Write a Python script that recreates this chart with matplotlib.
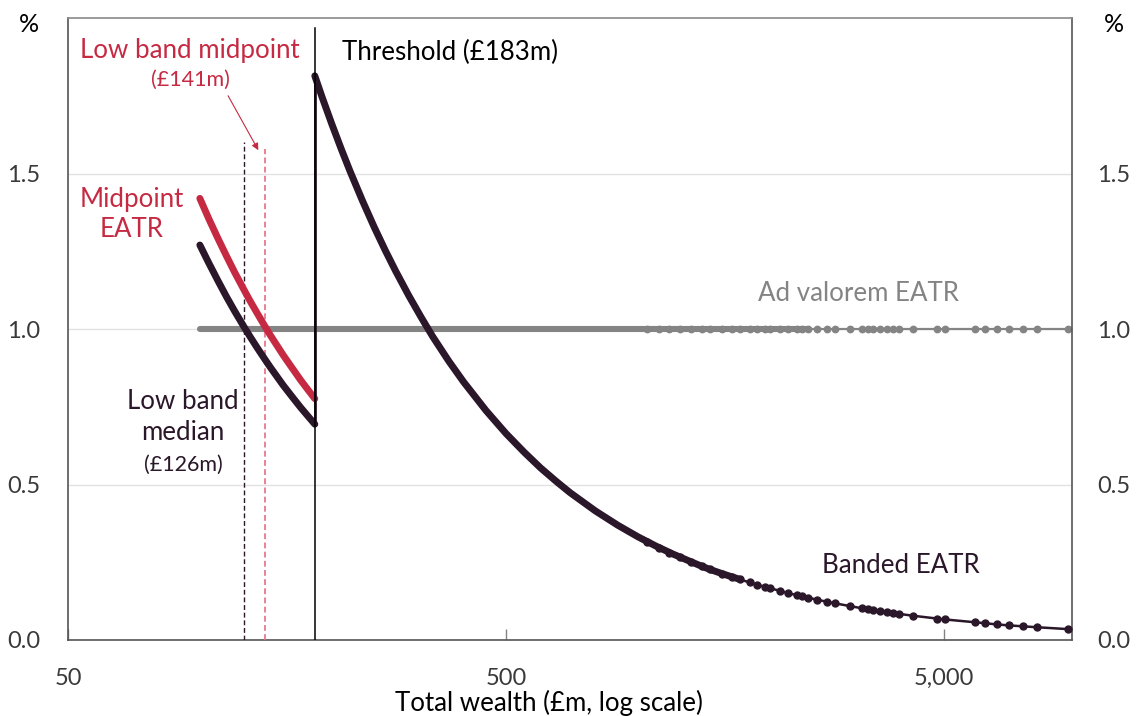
import matplotlib
matplotlib.use("Agg")
import matplotlib.pyplot as plt
from matplotlib.ticker import FixedLocator, NullLocator, FixedFormatter

plt.rcParams['font.family'] = ['Lato', 'DejaVu Sans']

# ---------------- data ----------------
threshold = 183
low_median = 126
low_midpoint = 141
ad_valorem_rate = 1.0

# low band (100m to threshold)
low_wealth = [100, 105, 110, 115, 120, 126, 130, 135, 141, 145, 150, 155,
              160, 165, 170, 176, 183]
low_banded = [1.27, 1.21, 1.155, 1.104, 1.058, 1.008, 0.977, 0.941, 0.901,
              0.876, 0.847, 0.819, 0.794, 0.770, 0.747, 0.722, 0.694]
low_midpoint_eatr = [1.42, 1.352, 1.291, 1.235, 1.183, 1.127, 1.092, 1.052,
                     1.007, 0.979, 0.947, 0.916, 0.888, 0.861, 0.835, 0.807,
                     0.776]

# dense part above threshold
high_wealth = [183, 190, 200, 210, 220, 235, 250, 265, 280, 300, 320, 340,
               370, 400, 450, 500, 550, 600, 650, 700, 800, 900, 1000, 1100,
               1200, 1320]
high_banded = [1.814, 1.747, 1.660, 1.581, 1.509, 1.413, 1.328, 1.253, 1.186,
               1.107, 1.038, 0.976, 0.897, 0.830, 0.738, 0.664, 0.604, 0.553,
               0.511, 0.474, 0.415, 0.369, 0.332, 0.302, 0.277, 0.252]

# sparse individual observations (right tail)
indiv_wealth = [1050, 1120, 1180, 1250, 1320, 1400, 1460, 1560, 1640, 1710,
                1800, 1870, 1950, 2000, 2110, 2200, 2310, 2370, 2450, 2560,
                2700, 2820, 3050, 3250, 3350, 3440, 3570, 3710, 3830, 3950,
                4250, 4820, 5030, 5890, 6200, 6610, 7040, 7570, 8160, 9590]
indiv_banded = [0.316, 0.296, 0.281, 0.266, 0.252, 0.237, 0.227, 0.213,
                0.203, 0.195, 0.185, 0.178, 0.171, 0.167, 0.158, 0.151,
                0.144, 0.140, 0.136, 0.130, 0.123, 0.118, 0.109, 0.102,
                0.099, 0.097, 0.093, 0.090, 0.087, 0.084, 0.078, 0.069,
                0.066, 0.057, 0.054, 0.050, 0.047, 0.044, 0.041, 0.035]

x_ticks = [50, 500, 5000]
x_tick_labels = ['50', '500', '5,000']
y_ticks = [0.0, 0.5, 1.0, 1.5]
y_tick_labels = ['0.0', '0.5', '1.0', '1.5']

# ---------------- style ----------------
DARK = '#2a1729'
RED = '#c62a42'
PINK = '#e4707f'
GREY = '#848484'
TICKC = '#3a3a3a'
FS = 18.6

fig = plt.figure(figsize=(11.38, 7.16), dpi=100)
ax = fig.add_axes([68/1138, 76/716, (1072-68)/1138, (640-18)/716])
ax.set_xscale('log')
ax.set_xlim(50, 9800)
ax.set_ylim(0, 2.0)

ax.xaxis.set_major_locator(FixedLocator(x_ticks))
ax.xaxis.set_major_formatter(FixedFormatter(x_tick_labels))
ax.xaxis.set_minor_locator(NullLocator())
ax.yaxis.set_major_locator(FixedLocator(y_ticks))
ax.yaxis.set_major_formatter(FixedFormatter(y_tick_labels))

ax.tick_params(axis='x', direction='in', length=8, width=1, color=GREY,
               labelsize=17, labelcolor=TICKC, pad=20)
ax.tick_params(axis='y', which='both', left=False, right=False, length=0,
               labelsize=17, labelcolor=TICKC, labelleft=True,
               labelright=True)
ax.yaxis.set_tick_params(pad=44)
for lab in ax.yaxis.get_ticklabels():
    lab.set_horizontalalignment('left')
ax.tick_params(axis='y', which='major', pad=44)
# right-hand labels: closer to the spine
for t in ax.yaxis.get_major_ticks():
    t.set_pad(44)

ax.yaxis.grid(True, color='#e2e2e2', lw=1)
ax.set_axisbelow(True)
for s in ['left', 'bottom', 'right']:
    ax.spines[s].set_color('#555555')
    ax.spines[s].set_linewidth(1.2)
ax.spines['top'].set_color('#8a8a8a')
ax.spines['top'].set_linewidth(1.2)

# ---------------- ad valorem EATR ----------------
av_dense_w = low_wealth + high_wealth[1:] + indiv_wealth[5:19]
ax.plot(av_dense_w, [ad_valorem_rate] * len(av_dense_w), color=GREY, lw=4.4,
        solid_capstyle='round', zorder=2)
ax.plot(indiv_wealth[18:], [ad_valorem_rate] * len(indiv_wealth[18:]),
        color=GREY, lw=1.6, zorder=2)
ax.plot(indiv_wealth, [ad_valorem_rate] * len(indiv_wealth), ls='none',
        marker='o', ms=4.6, color=GREY, zorder=2)

# ---------------- reference lines ----------------
ax.plot([low_median, low_median], [0, 1.6], color=DARK, lw=1.0,
        dashes=(3.5, 2), zorder=3)
ax.plot([low_midpoint, low_midpoint], [0, 1.58], color=PINK, lw=1.2,
        dashes=(3.5, 2), zorder=3)
ax.plot([threshold, threshold], [0, 1.968], color='black', lw=1.1, zorder=5)

# ---------------- midpoint EATR ----------------
ax.plot(low_wealth, low_midpoint_eatr, color=RED, lw=5.0,
        solid_capstyle='round', zorder=4)

# ---------------- banded EATR ----------------
ax.plot(low_wealth, low_banded, color=DARK, lw=5.0, solid_capstyle='round',
        zorder=4)
ax.plot([threshold, threshold], [low_banded[-1], high_banded[0]], color=DARK,
        lw=2.0, zorder=4)
dense_w = high_wealth + indiv_wealth[5:10]
dense_v = high_banded + indiv_banded[5:10]
ax.plot(dense_w, dense_v, color=DARK, lw=5.0, solid_capstyle='round',
        zorder=4)
ax.plot(indiv_wealth, indiv_banded, color=DARK, lw=1.8, marker='o', ms=5.0,
        zorder=4)

# ---------------- annotations ----------------
ax.text(95, 1.871, 'Low band midpoint', color=RED, fontsize=FS,
        ha='center', va='baseline')
ax.text(95, 1.781, '(£141m)', color=RED, fontsize=15.5,
        ha='center', va='baseline')
ax.annotate('', xy=(136, 1.575), xytext=(116, 1.75),
            arrowprops=dict(arrowstyle='-|>', color=RED, lw=0.8,
                            mutation_scale=10, shrinkA=0, shrinkB=0))
ax.text(211, 1.865, 'Threshold (£183m)', color='black', fontsize=FS,
        ha='left', va='baseline')
ax.text(70, 1.392, 'Midpoint', color=RED, fontsize=FS, ha='center',
        va='baseline')
ax.text(70, 1.296, 'EATR', color=RED, fontsize=FS, ha='center',
        va='baseline')
ax.text(91.5, 0.743, 'Low band', color=DARK, fontsize=FS, ha='center',
        va='baseline')
ax.text(91.5, 0.643, 'median', color=DARK, fontsize=FS, ha='center',
        va='baseline')
ax.text(91.5, 0.543, '(£126m)', color=DARK, fontsize=15.5, ha='center',
        va='baseline')
ax.text(1880, 1.09, 'Ad valorem EATR', color=GREY, fontsize=FS, ha='left',
        va='baseline')
ax.text(2633, 0.215, 'Banded EATR', color=DARK, fontsize=FS, ha='left',
        va='baseline')

fig.text(29/1138, 1 - 32/716, '%', fontsize=18, color='black', ha='center',
         va='baseline')
fig.text(1114/1138, 1 - 32/716, '%', fontsize=18, color='black',
         ha='center', va='baseline')
fig.text(549/1138, 5/716, 'Total wealth (£m, log scale)', fontsize=FS,
         color='black', ha='center', va='baseline')

# place right-hand tick labels near the right spine
fig.canvas.draw()
for t in ax.yaxis.get_major_ticks():
    t.label2.set_horizontalalignment('left')
import matplotlib.transforms as mtransforms
off = mtransforms.ScaledTranslation(-26/72, 0, fig.dpi_scale_trans)
for t in ax.yaxis.get_major_ticks():
    t.label2.set_transform(t.label2.get_transform() + off)

fig.savefig('out.png', dpi=100)
